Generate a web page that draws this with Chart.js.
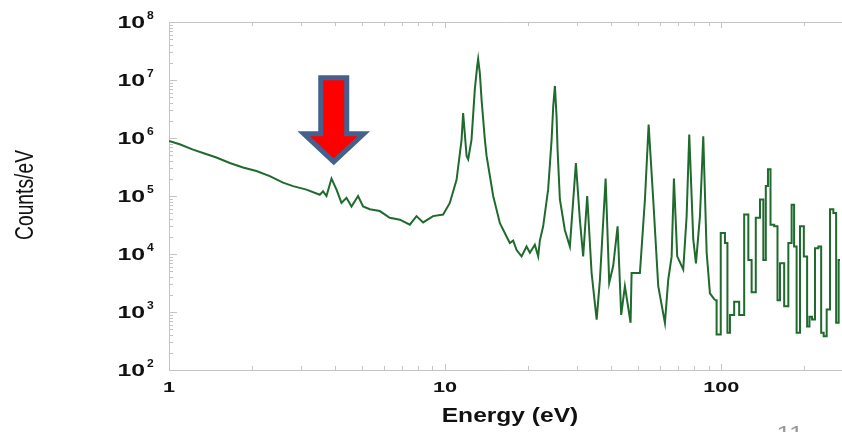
<!DOCTYPE html>
<html>
<head>
<meta charset="utf-8">
<script src="https://cdn.jsdelivr.net/npm/chart.js@4/dist/chart.umd.min.js"></script>
<style>
  html, body { margin: 0; padding: 0; background: #fff; }
  canvas { display: block; }
</style>
</head>
<body>
<canvas id="spectrum" width="842" height="432"></canvas>
<script>
// Energy bins (eV) and counts/eV
const energies = [
    1.0, 1.093, 1.222, 1.328, 1.485, 1.66, 1.854, 2.073, 2.317, 2.588,
    2.814, 3.147, 3.516, 3.614, 3.718, 3.877, 4.043, 4.213, 4.393, 4.58,
    4.838, 5.045, 5.336, 5.8, 6.303, 6.854, 7.449, 7.877, 8.323, 9.045,
    9.835, 10.4, 11.0, 11.47, 11.62, 11.96, 12.12, 12.46, 12.81, 13.06,
    13.17, 13.36, 13.55, 13.93, 14.13, 14.93, 15.79, 16.69, 17.15, 17.64,
    18.15, 18.92, 19.72, 20.28, 21.13, 21.73, 22.03, 22.65, 23.61, 24.3,
    24.63, 24.98, 25.33, 25.54, 26.04, 27.14, 28.3, 29.76, 30.76, 31.62,
    32.7, 33.92, 35.38, 36.36, 38.13, 39.29, 40.61, 42.13, 43.42, 44.78,
    46.95, 47.35, 50.75, 52.92, 54.58, 56.71, 59.13, 62.52, 64.27, 66.12,
    67.4, 69.27, 72.84, 74.93, 76.58, 79.19, 80.98, 83.73, 86.08, 88.55,
    91.01, 94.89, 97.52, 101.7, 104.6, 106.0, 109.1, 113.7, 118.6, 123.6,
    127.1, 130.6, 136.2, 140.1, 144.0, 146.0, 149.3, 152.3, 158.8, 160.9,
    165.5, 172.6, 177.4, 182.3, 184.9, 190.1, 195.6, 202.7, 206.6, 210.8,
    215.4, 221.7, 227.9, 232.3, 237.6, 244.2, 251.2, 258.2, 263.2, 269.2
];
const counts = [
    8.9e5, 7.8e5, 6.3e5, 5.5e5, 4.6e5, 3.7e5, 3.1e5, 2.7e5, 2.2e5, 1.7e5,
    1.48e5, 1.29e5, 1.05e5, 1.2e5, 1.0e5, 2.0e5, 1.29e5, 7.6e4, 9.3e4, 6.6e4,
    1.0e5, 6.6e4, 5.9e4, 5.5e4, 4.2e4, 3.9e4, 3.2e4, 4.5e4, 3.5e4, 4.5e4,
    4.8e4, 7.6e4, 1.9e5, 9.3e5, 2.7e6, 4.9e5, 4.3e5, 9.3e5, 6.9e6, 1.7e7,
    2.3e7, 1.3e7, 4.6e6, 9.3e5, 4.9e5, 1.0e5, 3.4e4, 2.0e4, 1.55e4, 1.7e4,
    1.17e4, 9.1e3, 1.35e4, 1.05e4, 1.45e4, 9.1e3, 1.7e4, 3.0e4, 1.3e5, 9.3e5,
    3.5e6, 7.9e6, 2.3e6, 6.3e5, 8.7e4, 2.6e4, 1.35e4, 3.7e5, 3.9e4, 9.1e3,
    1.0e5, 4.7e3, 7.4e2, 3.6e3, 2.0e5, 3.2e3, 6.2e3, 3.0e4, 8.9e2, 2.8e3,
    6.5e2, 4.7e3, 4.7e3, 8.7e4, 1.7e6, 8.7e4, 2.8e3, 6.5e2, 3.6e3, 9.1e3,
    2.0e5, 9.1e3, 5.4e3, 4.5e4, 1.15e6, 1.8e4, 6.9e3, 4.5e4, 1.07e6, 1.05e4,
    2.1e3, 1.6e3, 4.1e2, 2.3e4, 1.55e4, 4.4e2, 8.9e2, 1.5e3, 8.9e2, 4.8e4,
    7.9e3, 2.2e3, 4.2e4, 8.7e4, 7.9e3, 1.48e5, 2.9e5, 3.2e4, 3.0e4, 1.6e3,
    6.9e3, 1.26e3, 1.55e4, 7.1e4, 1.35e4, 4.4e2, 3.0e4, 9.1e3, 5.6e2, 8.3e2,
    7.4e2, 1.26e4, 1.35e4, 4.4e2, 3.8e2, 1.1e3, 5.9e4, 5.1e4, 6.5e2, 7.9e3
];

// above this energy the histogram bins are wide enough to show as steps
const stepStartEnergy = 94;

const xTickLabels = ['1', '10', '100'];
const xTickValues = [1, 10, 100];
const yTickExponents = [2, 3, 4, 5, 6, 7, 8];
const xRange = [1, 269.2];
const yRange = [1e2, 1e8];

// red arrow pointing at the small peak near 4 eV (tip position in data units)
const arrowTip = { x: 3.95, y: 3.9e5 };

const lineColor = '#1f6a2d';
const frameColor = '#c4c4c4';

function stretchedText(ctx, text, x, y, font, align, sx, sy) {
    ctx.save();
    ctx.font = font;
    ctx.textAlign = align;
    ctx.textBaseline = 'alphabetic';
    ctx.translate(x, y);
    ctx.scale(sx, sy || 1);
    ctx.fillText(text, 0, 0);
    ctx.restore();
}

const framePlugin = {
    id: 'frame',
    beforeDatasetsDraw(chart) {
        const { ctx, chartArea: a, scales: { x, y } } = chart;
        ctx.save();
        ctx.strokeStyle = frameColor;
        ctx.lineWidth = 1;
        ctx.beginPath();
        // top, left, bottom edges
        ctx.moveTo(842, a.top + 0.5);
        ctx.lineTo(a.left + 0.5, a.top + 0.5);
        ctx.lineTo(a.left + 0.5, a.bottom + 0.5);
        ctx.lineTo(842, a.bottom + 0.5);

        // left ticks, major on decades, minor between
        yTickExponents.forEach(e => {
            for (let m = 1; m <= 9; m++) {
                const v = m * Math.pow(10, e);
                if (v > yRange[1]) break;
                const py = Math.round(y.getPixelForValue(v)) + 0.5;
                const len = m === 1 ? 8 : 4;
                ctx.moveTo(a.left, py);
                ctx.lineTo(a.left + len, py);
            }
        });

        // bottom and top ticks
        xTickValues.forEach(d => {
            for (let m = 1; m <= 9; m++) {
                const v = m * d;
                if (v > xRange[1]) break;
                const px = Math.round(x.getPixelForValue(v)) + 0.5;
                const len = m === 1 ? 6 : 4;
                ctx.moveTo(px, a.bottom);
                ctx.lineTo(px, a.bottom - len);
                ctx.moveTo(px, a.top);
                ctx.lineTo(px, a.top + len);
            }
        });
        ctx.stroke();
        ctx.restore();
    },
    afterDraw(chart) {
        const { ctx, scales: { x, y } } = chart;
        ctx.save();
        ctx.fillStyle = '#111';

        // y tick labels: 10 with superscript exponent
        yTickExponents.forEach(e => {
            const py = y.getPixelForValue(Math.pow(10, e));
            stretchedText(ctx, '10', 145, py + 6, 'bold 16px "Liberation Sans", Arial, sans-serif', 'right', 1.55);
            stretchedText(ctx, String(e), 147, py - 3, 'bold 11px "Liberation Sans", Arial, sans-serif', 'left', 1.1);
        });

        // x tick labels
        xTickValues.forEach((v, i) => {
            const px = x.getPixelForValue(v);
            stretchedText(ctx, xTickLabels[i], px, 392, 'bold 14px "Liberation Sans", Arial, sans-serif', 'center', 1.55);
        });

        // axis titles
        stretchedText(ctx, 'Energy (eV)', 510, 422, 'bold 21px "Liberation Sans", Arial, sans-serif', 'center', 1.17);

        ctx.save();
        ctx.translate(33, 195);
        ctx.rotate(-Math.PI / 2);
        ctx.font = '18px "Liberation Sans", Arial, sans-serif';
        const w = ctx.measureText('Counts/eV').width;
        ctx.scale(90 / w, 1.4);
        ctx.textAlign = 'center';
        ctx.fillText('Counts/eV', 0, 0);
        ctx.restore();

        // arrow
        const tx = x.getPixelForValue(arrowTip.x);
        const ty = y.getPixelForValue(arrowTip.y);
        ctx.beginPath();
        ctx.moveTo(tx - 13, ty - 84);
        ctx.lineTo(tx + 13, ty - 84);
        ctx.lineTo(tx + 13, ty - 28);
        ctx.lineTo(tx + 30, ty - 28);
        ctx.lineTo(tx, ty);
        ctx.lineTo(tx - 30, ty - 28);
        ctx.lineTo(tx - 13, ty - 28);
        ctx.closePath();
        ctx.fillStyle = '#ff0000';
        ctx.fill();
        ctx.lineJoin = 'miter';
        ctx.lineWidth = 5;
        ctx.strokeStyle = '#44618e';
        ctx.stroke();

        // slide page number, cut off at the bottom
        ctx.fillStyle = '#9a9a9a';
        stretchedText(ctx, '11', 790, 440, '20px "Liberation Sans", Arial, sans-serif', 'center', 1.3);
        ctx.restore();
    }
};

document.addEventListener('DOMContentLoaded', () => {
    const points = energies.map((e, i) => ({ x: e, y: counts[i] }));
    const split = energies.findIndex(e => e >= stepStartEnergy);
    const finePart = points.slice(0, split + 1);
    const coarsePart = points.slice(split);

    const lineStyle = {
        borderColor: lineColor,
        borderWidth: 2,
        pointRadius: 0,
        fill: false
    };

    new Chart(document.getElementById('spectrum'), {
        type: 'line',
        data: {
            datasets: [
                { ...lineStyle, data: finePart, stepped: false, tension: 0 },
                { ...lineStyle, data: coarsePart, stepped: 'middle' }
            ]
        },
        options: {
            responsive: false,
            devicePixelRatio: 1,
            animation: false,
            layout: { padding: { left: 169, right: 2, top: 22, bottom: 62 } },
            plugins: {
                legend: { display: false },
                tooltip: { enabled: false }
            },
            scales: {
                x: { type: 'logarithmic', min: xRange[0], max: xRange[1], display: false },
                y: { type: 'logarithmic', min: yRange[0], max: yRange[1], display: false }
            }
        },
        plugins: [framePlugin]
    });
});
</script>
</body>
</html>
